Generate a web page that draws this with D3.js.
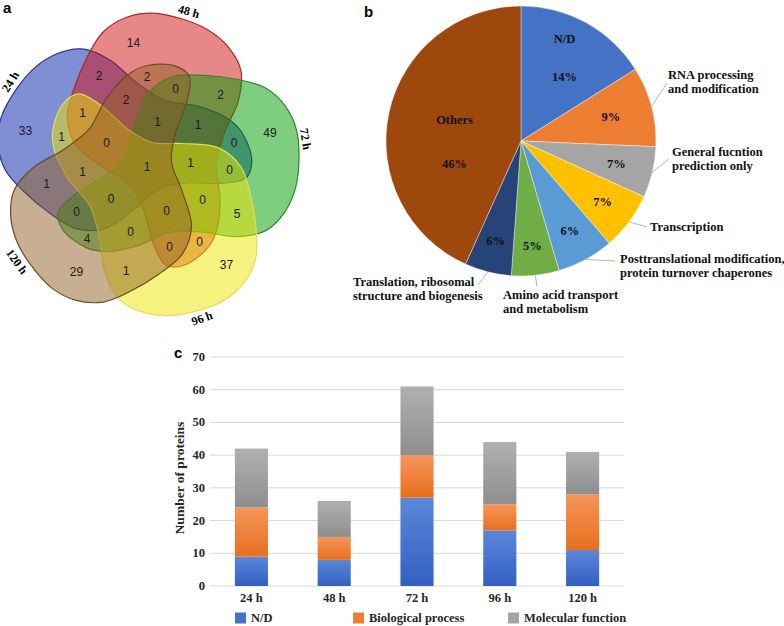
<!DOCTYPE html>
<html>
<head>
<meta charset="utf-8">
<script src="https://cdn.jsdelivr.net/npm/d3@7"></script>
<style>
  body { margin: 0; background: #fff; }
  text { font-family: "Liberation Serif", "Times New Roman", serif; }
</style>
</head>
<body>
<script>
// ---------- data ----------
// a: 5-set Venn (A=24 h, B=48 h, C=72 h, D=96 h, E=120 h)
var setNames = ["24 h", "48 h", "72 h", "96 h", "120 h"];
var regionKeys = ["A", "B", "C", "D", "E",
  "AB", "BC", "CD", "DE", "AE", "AD", "BE", "AC", "BD", "CE",
  "BCE", "ABC", "ACD", "BCD", "BDE", "CDE", "ACE", "ADE", "ABD", "ABE",
  "ABCE", "ABCD", "BCDE", "ACDE", "ABDE", "ABCDE"];
var regionCounts = [33, 14, 49, 37, 29,
  2, 2, 5, 1, 1, 1, 2, 0, 0, 4,
  0, 1, 0, 0, 0, 0, 0, 1, 1, 2,
  1, 1, 0, 0, 0, 1];

// b: pie of functional categories
var pieCategories = ["N/D", "RNA processing\nand modification", "General fucntion\nprediction only",
  "Transcription", "Posttranslational modification,\nprotein turnover chaperones",
  "Amino acid transport\nand metabolism", "Translation, ribosomal\nstructure and biogenesis", "Others"];
var pieShares = [16.1, 9.6, 6.1, 6.9, 6.8, 5.7, 5.6, 43.3];
var pieLabels = ["14%", "9%", "7%", "7%", "6%", "5%", "6%", "46%"];

// c: stacked bars
var hours = ["24 h", "48 h", "72 h", "96 h", "120 h"];
var seriesNames = ["N/D", "Biological process", "Molecular function"];
var ndCounts = [9, 8, 27, 17, 11];
var bpCounts = [15, 7, 13, 8, 17];
var mfCounts = [18, 11, 21, 19, 13];
var yTicks = [0, 10, 20, 30, 40, 50, 60, 70];

// ---------- page ----------
var width = 784, height = 626;
var svg = d3.select("body").append("svg")
    .attr("width", width)
    .attr("height", height);

var defs = svg.append("defs");

function panelLetter(t, x, y) {
  svg.append("text").attr("x", x).attr("y", y).text(t)
    .style("font-family", "'Liberation Sans', Arial, sans-serif")
    .style("font-weight", "bold").style("font-size", "15px");
}

// ================= a: Venn =================
var vc = {x: 147, y: 167};
var lobeAngles = [303, 16, 90, 164, 232];
var labelAngles = [302, 15, 80, 160, 234];
var vennFill = ["#011da9", "#d10f0f", "#009b00", "#ebe500", "#915f23"];
var vennStroke = ["#24339c", "#b32626", "#2b8a2b", "#e3dc5c", "#6d4a25"];

// one outline, [angle from lobe direction, radius]; rotated for each set
var outline = [[153, 100], [159, 78], [170, 41], [207, 25], [252, 42], [271, 74],
  [286, 94], [302, 108], [316, 126], [326, 142], [336, 151], [346, 154], [358, 152],
  [8, 150], [18, 145], [28, 135], [38, 113], [48, 88], [58, 76], [72, 69], [98, 80],
  [116, 94], [127, 101], [143, 105]];

function shapePoints(lobe) {
  return outline.map(function(p) {
    var a = (lobe + p[0]) * Math.PI / 180;
    return [vc.x + p[1] * Math.sin(a), vc.y - p[1] * Math.cos(a)];
  });
}

var shapeLine = d3.line().curve(d3.curveCatmullRomClosed.alpha(0.5));

var gV = svg.append("g");
var setPaths = gV.selectAll("path.set")
  .data(setNames)
  .join("path")
    .attr("class", "set")
    .attr("d", function(d, i) { return shapeLine(shapePoints(lobeAngles[i])); })
    .attr("fill", function(d, i) { return vennFill[i]; })
    .attr("fill-opacity", 0.5)
    .attr("stroke", function(d, i) { return vennStroke[i]; })
    .attr("stroke-width", 1.2);

// sample outlines into polygons
var polys = setPaths.nodes().map(function(node) {
  var L = node.getTotalLength(), pts = [];
  for (var k = 0; k < 240; k++) {
    var p = node.getPointAtLength(L * k / 240);
    pts.push([p.x, p.y]);
  }
  return pts;
});

// membership grid, then distance to region edge -> label spot per region
var step = 1.5, gx0 = vc.x - 180, gy0 = vc.y - 180;
var nx = Math.ceil(360 / step), ny = nx;
var code = new Int16Array(nx * ny);
for (var j = 0; j < ny; j++) {
  for (var i = 0; i < nx; i++) {
    var pt = [gx0 + i * step, gy0 + j * step], c = 0;
    for (var s = 0; s < 5; s++) if (d3.polygonContains(polys[s], pt)) c |= 1 << s;
    code[j * nx + i] = c;
  }
}
var dist = new Float32Array(nx * ny);
for (var j = 0; j < ny; j++) {
  for (var i = 0; i < nx; i++) {
    var k = j * nx + i, c = code[k], edge = (i == 0 || j == 0 || i == nx - 1 || j == ny - 1);
    if (!edge) edge = code[k - 1] != c || code[k + 1] != c || code[k - nx] != c || code[k + nx] != c;
    dist[k] = edge ? 0 : 1e9;
  }
}
for (var j = 1; j < ny - 1; j++) {
  for (var i = 1; i < nx - 1; i++) {
    var k = j * nx + i;
    dist[k] = Math.min(dist[k], dist[k - 1] + 1, dist[k - nx] + 1,
      dist[k - nx - 1] + 1.414, dist[k - nx + 1] + 1.414);
  }
}
for (var j = ny - 2; j > 0; j--) {
  for (var i = nx - 2; i > 0; i--) {
    var k = j * nx + i;
    dist[k] = Math.min(dist[k], dist[k + 1] + 1, dist[k + nx] + 1,
      dist[k + nx + 1] + 1.414, dist[k + nx - 1] + 1.414);
  }
}
var best = {};
for (var k = 0; k < nx * ny; k++) {
  var c = code[k];
  if (!c) continue;
  if (!best[c] || dist[k] > best[c].d) best[c] = {d: dist[k], x: gx0 + (k % nx) * step, y: gy0 + Math.floor(k / nx) * step};
}

function keyMask(key) {
  var m = 0;
  key.split("").forEach(function(ch) { m |= 1 << ("ABCDE".indexOf(ch)); });
  return m;
}

gV.selectAll("text.count")
  .data(regionKeys.filter(function(key) { return best[keyMask(key)]; }))
  .join("text")
    .attr("class", "count")
    .attr("x", function(key) { return best[keyMask(key)].x; })
    .attr("y", function(key) { return best[keyMask(key)].y; })
    .attr("text-anchor", "middle")
    .attr("dominant-baseline", "central")
    .style("font-family", "'Liberation Sans', Arial, sans-serif")
    .style("font-size", "12px")
    .style("fill", "#1a1a1a")
    .text(function(key) { return regionCounts[regionKeys.indexOf(key)]; });

gV.selectAll("text.setlab")
  .data(setNames)
  .join("text")
    .attr("class", "setlab")
    .attr("transform", function(d, i) {
      var a = labelAngles[i], r = a * Math.PI / 180;
      var x = vc.x + 161 * Math.sin(r), y = vc.y - 161 * Math.cos(r);
      var rot = (a > 90 && a < 270) ? a - 180 : (a >= 270 ? a - 360 : a);
      return "translate(" + x + "," + y + ") rotate(" + rot + ")";
    })
    .attr("text-anchor", "middle")
    .attr("dominant-baseline", "central")
    .style("font-weight", "bold")
    .style("font-size", "12px")
    .text(function(d) { return d; });

panelLetter("a", 3, 13);

// ================= b: pie =================
var pc = {x: 521, y: 141}, R = 135;
var pieColors = ["#4472C4", "#ED7D31", "#A5A5A5", "#FFC000", "#5B9BD5", "#70AD47", "#264478", "#9E480E"];
var arcs = d3.pie().sort(null).value(function(d) { return d; })(pieShares);
var arc = d3.arc().innerRadius(0).outerRadius(R);
var edgeArc = d3.arc().innerRadius(R).outerRadius(R);

var gP = svg.append("g").attr("transform", "translate(" + pc.x + "," + pc.y + ")");
gP.selectAll("path")
  .data(arcs)
  .join("path")
    .attr("d", arc)
    .attr("fill", function(d, i) { return pieColors[i]; })
    .attr("stroke", "#fff")
    .attr("stroke-width", 0.4);

// inner label layout: radius along slice middle, line offsets
var innerR = [90, 93, 98, 102, 102, 106, 103, 68];
var nameDy = {0: -23, 7: -7};
var pctDy = {0: 15, 7: 37};
var labelFont = "12.5px";

arcs.forEach(function(d, i) {
  var p = d3.arc().innerRadius(innerR[i]).outerRadius(innerR[i]).centroid(d);
  if (nameDy[i] !== undefined) {
    gP.append("text").attr("x", p[0]).attr("y", p[1] + nameDy[i])
      .attr("text-anchor", "middle").attr("dominant-baseline", "central")
      .style("font-weight", "bold").style("font-size", labelFont).style("fill", "#111")
      .text(pieCategories[i]);
    gP.append("text").attr("x", p[0]).attr("y", p[1] + pctDy[i])
      .attr("text-anchor", "middle").attr("dominant-baseline", "central")
      .style("font-weight", "bold").style("font-size", labelFont).style("fill", "#111")
      .text(pieLabels[i]);
  } else {
    gP.append("text").attr("x", p[0]).attr("y", p[1])
      .attr("text-anchor", "middle").attr("dominant-baseline", "central")
      .style("font-weight", "bold").style("font-size", labelFont).style("fill", "#111")
      .text(pieLabels[i]);
  }
});

// outer labels: leader end and text spot (page coords)
var outerLayout = {
  1: {lx: 667, ly: 83, tx: 668, ty: 75},
  2: {lx: 669, ly: 159, tx: 672, ty: 152},
  3: {lx: 647, ly: 227, tx: 650, ty: 227},
  4: {lx: 615, ly: 261, tx: 620, ty: 259},
  5: {lx: 537, ly: 287, tx: 503, ty: 295},
  6: {lx: 478, ly: 285, tx: 353, ty: 282}
};
var lineGap = 14;
arcs.forEach(function(d, i) {
  var o = outerLayout[i];
  if (!o) return;
  var s = edgeArc.centroid(d);
  svg.append("line")
    .attr("x1", pc.x + s[0]).attr("y1", pc.y + s[1])
    .attr("x2", o.lx).attr("y2", o.ly)
    .attr("stroke", "#a6a6a6").attr("stroke-width", 0.8);
  var t = svg.append("text")
    .attr("x", o.tx).attr("y", o.ty)
    .attr("dominant-baseline", "central")
    .style("font-weight", "bold").style("font-size", labelFont).style("fill", "#111");
  pieCategories[i].split("\n").forEach(function(line, li) {
    t.append("tspan").attr("x", o.tx).attr("y", o.ty + li * lineGap).text(line);
  });
});

panelLetter("b", 364, 17);

// ================= c: stacked bars =================
var table = hours.map(function(h, i) {
  return {hour: h, "N/D": ndCounts[i], "Biological process": bpCounts[i], "Molecular function": mfCounts[i]};
});
var stacked = d3.stack().keys(seriesNames)(table);

var x = d3.scaleBand().domain(hours).range([210, 624]).paddingInner(0.6).paddingOuter(0.3);
var y = d3.scaleLinear().domain([0, 70]).range([586, 357]);

var barTop = ["#5c88d8", "#f5955a", "#b0b0b0"];
var barBottom = ["#3160c2", "#e86f1e", "#8e8e8e"];
var legendColors = ["#4472C4", "#ED7D31", "#A5A5A5"];
seriesNames.forEach(function(s, i) {
  var g = defs.append("linearGradient").attr("id", "grad" + i)
    .attr("x1", 0).attr("y1", 0).attr("x2", 0).attr("y2", 1);
  g.append("stop").attr("offset", "0%").attr("stop-color", barTop[i]);
  g.append("stop").attr("offset", "100%").attr("stop-color", barBottom[i]);
});

var gC = svg.append("g");
gC.selectAll("line.grid")
  .data(yTicks)
  .join("line")
    .attr("class", "grid")
    .attr("x1", 210).attr("x2", 624)
    .attr("y1", function(d) { return y(d); }).attr("y2", function(d) { return y(d); })
    .attr("stroke", "#d9d9d9").attr("stroke-width", 1);

gC.selectAll("text.ytick")
  .data(yTicks)
  .join("text")
    .attr("class", "ytick")
    .attr("x", 205).attr("y", function(d) { return y(d); })
    .attr("text-anchor", "end").attr("dominant-baseline", "central")
    .style("font-weight", "bold").style("font-size", "12.5px").style("fill", "#262626")
    .text(function(d) { return d; });

gC.selectAll("g.series")
  .data(stacked)
  .join("g")
    .attr("class", "series")
    .attr("fill", function(d, i) { return "url(#grad" + i + ")"; })
  .selectAll("rect")
  .data(function(d) { return d; })
  .join("rect")
    .attr("x", function(d) { return x(d.data.hour); })
    .attr("width", x.bandwidth())
    .attr("y", function(d) { return y(d[1]); })
    .attr("height", function(d) { return y(d[0]) - y(d[1]); });

gC.selectAll("text.xtick")
  .data(hours)
  .join("text")
    .attr("class", "xtick")
    .attr("x", function(d) { return x(d) + x.bandwidth() / 2; })
    .attr("y", 598)
    .attr("text-anchor", "middle").attr("dominant-baseline", "central")
    .style("font-weight", "bold").style("font-size", "12.5px").style("fill", "#262626")
    .text(function(d) { return d; });

gC.append("text")
  .attr("transform", "translate(179,478) rotate(-90)")
  .attr("text-anchor", "middle").attr("dominant-baseline", "central")
  .style("font-weight", "bold").style("font-size", "13.5px").style("fill", "#262626")
  .text("Number of proteins");

var legendX = [235, 353, 508];
var lg = gC.selectAll("g.legend")
  .data(seriesNames)
  .join("g")
    .attr("class", "legend")
    .attr("transform", function(d, i) { return "translate(" + legendX[i] + ",618)"; });
lg.append("rect").attr("x", 0).attr("y", -5.5).attr("width", 11).attr("height", 11)
  .attr("fill", function(d, i) { return legendColors[i]; });
lg.append("text").attr("x", 16).attr("y", 0).attr("dominant-baseline", "central")
  .style("font-weight", "bold").style("font-size", "12.5px").style("fill", "#262626")
  .text(function(d) { return d; });

panelLetter("c", 174, 358);
</script>
</body>
</html>
